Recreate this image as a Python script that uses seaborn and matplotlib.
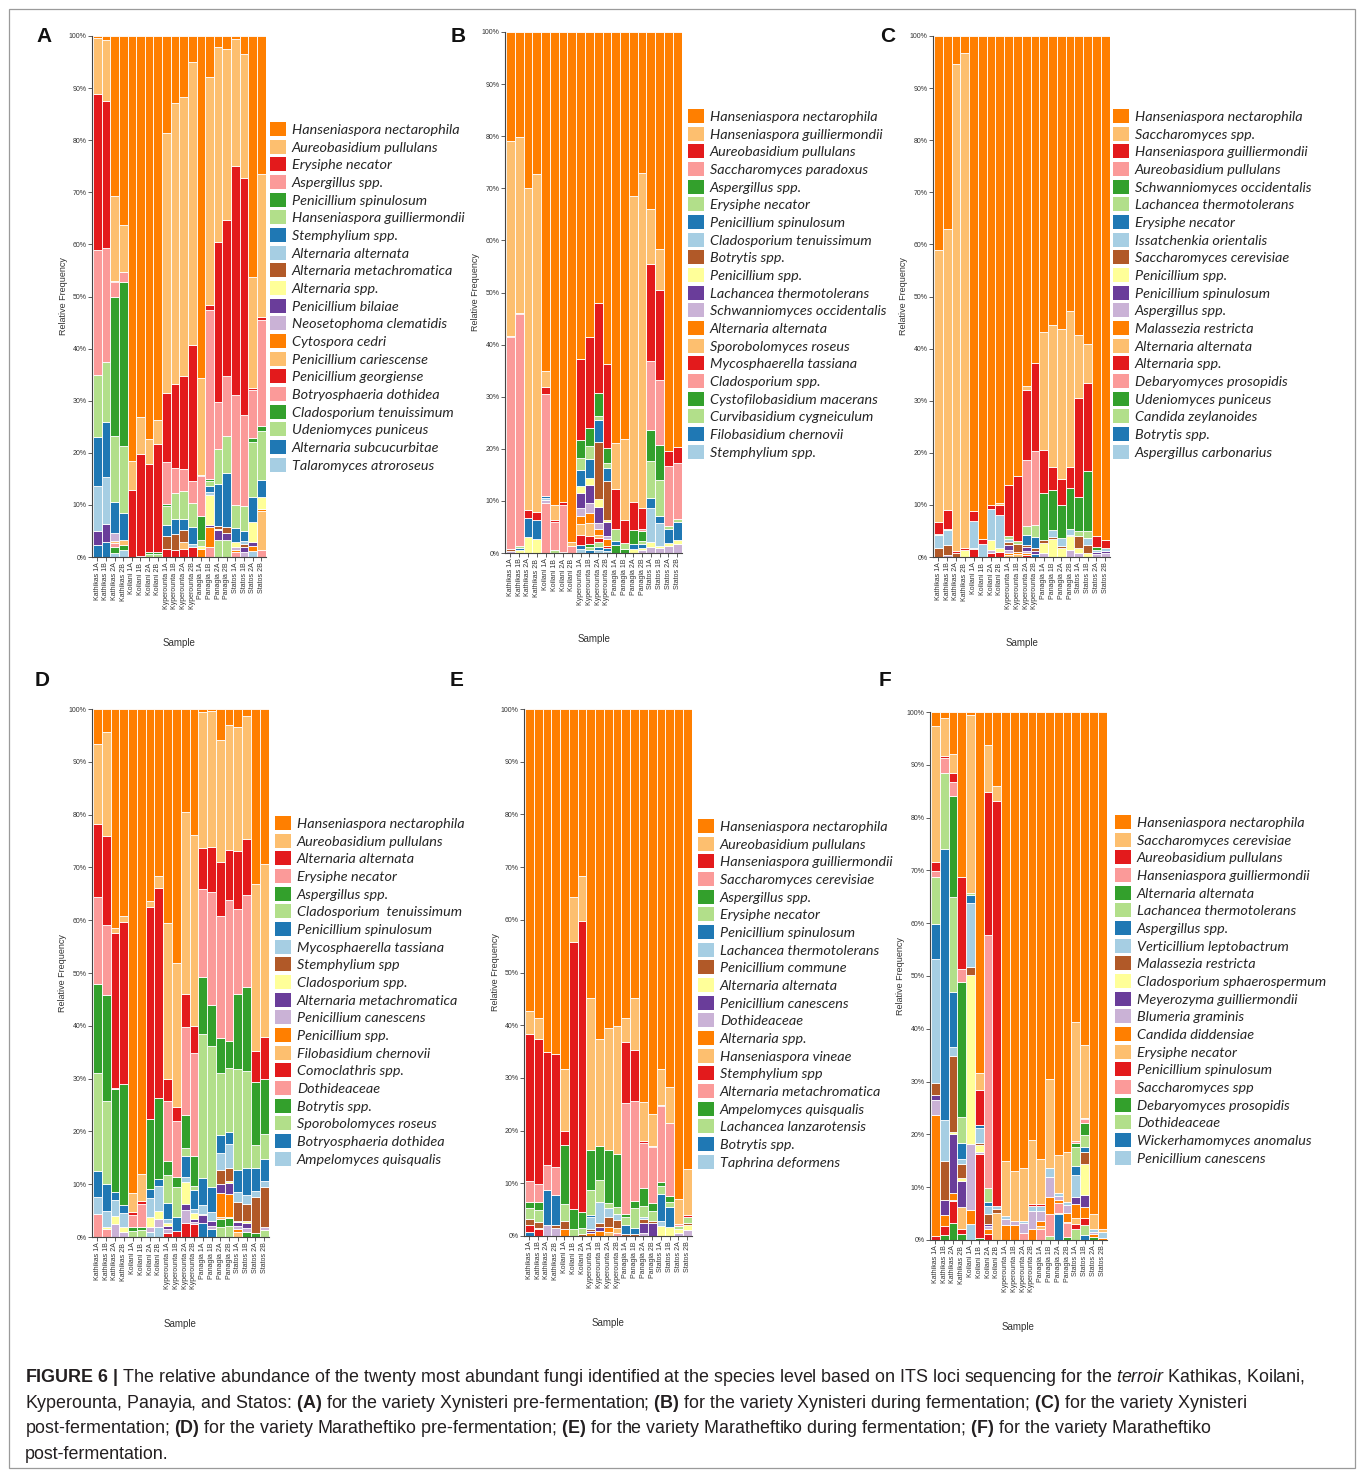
import numpy as np
import pandas as pd
import seaborn as sns
import matplotlib
matplotlib.use("Agg")
import matplotlib.pyplot as plt
from matplotlib.patches import Patch, Rectangle
from matplotlib import font_manager as fm

sns.set_theme(style="white")


def has_font(name):
    try:
        fm.findfont(fm.FontProperties(family=name), fallback_to_default=False)
        return True
    except Exception:
        return False


BASE = "Liberation Sans" if has_font("Liberation Sans") else "DejaVu Sans"
LEG = "Lato" if has_font("Lato") else BASE
CAP = "Liberation Sans Narrow" if has_font("Liberation Sans Narrow") else BASE
plt.rcParams['font.family'] = [BASE, 'DejaVu Sans']
plt.rcParams['mathtext.fontset'] = 'custom'
plt.rcParams['mathtext.rm'] = CAP
plt.rcParams['mathtext.bf'] = CAP + ':bold'
plt.rcParams['mathtext.it'] = CAP + ':italic'

W, H = 1360, 1473

PAIRED = ["#ff7f00", "#fdbf6f", "#e31a1c", "#fb9a99", "#33a02c", "#b2df8a",
          "#1f78b4", "#a6cee3", "#b15928", "#ffff99", "#6a3d9a", "#cab2d6",
          "#ff7f00", "#fdbf6f", "#e31a1c", "#fb9a99", "#33a02c", "#b2df8a",
          "#1f78b4", "#a6cee3"]

SAMPLES = ["Kathikas 1A", "Kathikas 1B", "Kathikas 2A", "Kathikas 2B",
           "Koilani 1A", "Koilani 1B", "Koilani 2A", "Koilani 2B",
           "Kyperounta 1A", "Kyperounta 1B", "Kyperounta 2A", "Kyperounta 2B",
           "Panagia 1A", "Panagia 1B", "Panagia 2A", "Panagia 2B",
           "Statos 1A", "Statos 1B", "Statos 2A", "Statos 2B"]
SAMPLES_E = ["Kathikas 1A", "Kathikas 1B", "Kathikas 2A", "Kathikas 2B",
             "Koilani 1A", "Koilani 1B", "Koilani 2A",
             "Kyperounta 1A", "Kyperounta 1B", "Kyperounta 2A", "Kyperounta 2B",
             "Panagia 1A", "Panagia 1B", "Panagia 2A", "Panagia 2B",
             "Statos 1A", "Statos 1B", "Statos 2A", "Statos 2B"]

# ---------------- Panel A ----------------
A_species = ["Hanseniaspora nectarophila", "Aureobasidium pullulans", "Erysiphe necator",
             "Aspergillus spp.", "Penicillium spinulosum", "Hanseniaspora guilliermondii",
             "Stemphylium spp.", "Alternaria alternata", "Alternaria metachromatica",
             "Alternaria spp.", "Penicillium bilaiae", "Neosetophoma clematidis",
             "Cytospora cedri", "Penicillium cariescense", "Penicillium georgiense",
             "Botryosphaeria dothidea", "Cladosporium tenuissimum", "Udeniomyces puniceus",
             "Alternaria subcucurbitae", "Talaromyces atroroseus"]
A_bars = [
    {1: 0.3, 2: 10.9, 3: 29.9, 4: 24.0, 6: 11.9, 7: 9.3, 8: 8.7, 11: 2.7, 19: 2.3},
    {1: 0.7, 2: 11.8, 3: 28.2, 4: 21.9, 6: 11.4, 7: 10.6, 8: 9.1, 11: 3.5, 19: 2.8},
    {1: 30.7, 2: 16.3, 3: 0.3, 4: 2.8, 5: 26.6, 6: 12.7, 7: 6.0, 12: 1.5, 14: 0.4, 16: 0.8, 17: 1.1, 20: 0.8},
    {1: 36.2, 2: 9.1, 4: 2.0, 5: 31.4, 6: 12.8, 7: 5.2, 14: 1.0, 17: 1.0, 20: 1.3},
    {1: 81.6, 2: 5.6, 3: 12.8},
    {1: 73.2, 2: 7.1, 3: 19.5, 6: 0.2},
    {1: 77.4, 2: 4.7, 3: 16.9, 5: 0.4, 6: 0.6},
    {1: 73.7, 2: 4.6, 3: 20.7, 5: 0.4, 6: 0.6},
    {1: 18.7, 2: 49.9, 3: 13.2, 4: 8.0, 5: 0.5, 6: 3.5, 7: 2.1, 9: 2.6, 15: 1.5},
    {1: 12.8, 2: 54.0, 3: 16.1, 4: 4.9, 6: 5.0, 7: 2.8, 9: 3.1, 15: 1.3},
    {1: 11.7, 2: 53.5, 3: 17.9, 4: 4.3, 6: 5.4, 7: 2.0, 9: 2.4, 14: 1.3, 15: 1.5},
    {1: 5.0, 2: 54.3, 3: 26.2, 4: 4.1, 6: 4.7, 7: 3.3, 8: 0.4, 15: 2.0},
    {1: 65.5, 2: 18.6, 3: 0.3, 4: 7.7, 5: 4.6, 6: 1.0, 10: 0.6, 13: 1.6},
    {1: 7.9, 2: 43.5, 3: 0.9, 4: 32.3, 5: 0.4, 6: 1.0, 7: 1.1, 8: 0.6, 10: 5.6, 11: 0.5, 13: 3.7, 16: 2.0},
    {1: 2.2, 2: 37.3, 3: 30.8, 4: 8.9, 6: 6.8, 7: 8.1, 9: 0.5, 10: 0.3, 11: 1.8, 18: 3.3},
    {1: 2.4, 2: 32.9, 3: 29.9, 4: 11.6, 6: 7.1, 7: 10.4, 9: 1.1, 11: 1.3, 18: 3.3},
    {1: 0.5, 2: 24.4, 3: 44.0, 4: 21.2, 6: 4.4, 7: 2.6, 10: 1.0, 12: 0.5, 13: 0.4, 16: 1.0},
    {1: 3.5, 2: 23.8, 3: 45.4, 4: 17.5, 6: 4.8, 7: 1.9, 8: 0.6, 9: 0.5, 11: 1.0, 12: 1.0},
    {1: 46.3, 2: 21.2, 3: 0.4, 4: 9.2, 5: 0.8, 6: 10.6, 7: 4.7, 10: 3.9, 11: 0.8, 13: 1.0, 20: 1.1},
    {1: 26.5, 2: 27.5, 3: 0.5, 4: 20.3, 5: 1.1, 6: 9.3, 7: 3.3, 10: 2.3, 13: 0.4, 14: 7.5, 16: 1.3},
]

# ---------------- Panel B ----------------
B_species = ["Hanseniaspora nectarophila", "Hanseniaspora guilliermondii", "Aureobasidium pullulans",
             "Saccharomyces paradoxus", "Aspergillus spp.", "Erysiphe necator",
             "Penicillium spinulosum", "Cladosporium tenuissimum", "Botrytis spp.",
             "Penicillium spp.", "Lachancea thermotolerans", "Schwanniomyces occidentalis",
             "Alternaria alternata", "Sporobolomyces roseus", "Mycosphaerella tassiana",
             "Cladosporium spp.", "Cystofilobasidium macerans", "Curvibasidium cygneiculum",
             "Filobasidium chernovii", "Stemphylium spp."]
B_bars = [
    {1: 20.9, 2: 37.4, 3: 0.3, 4: 40.6, 9: 0.5, 12: 0.3},
    {1: 20.1, 2: 33.8, 3: 0.3, 4: 44.4, 6: 0.4, 7: 0.5, 10: 0.5},
    {1: 30.0, 2: 61.7, 3: 1.5, 7: 3.7, 10: 3.1},
    {1: 27.2, 2: 65.0, 3: 1.5, 7: 3.6, 10: 2.7},
    {1: 65.0, 2: 3.2, 3: 1.3, 4: 19.6, 7: 0.4, 8: 0.4, 12: 0.5, 16: 9.6},
    {1: 90.8, 2: 2.9, 3: 0.3, 4: 5.5, 6: 0.5},
    {1: 90.3, 3: 0.4, 4: 9.1, 6: 0.2},
    {1: 97.9, 2: 0.7, 4: 1.4},
    {1: 62.8, 3: 15.6, 5: 3.4, 6: 2.3, 7: 3.0, 10: 1.3, 11: 2.9, 12: 1.6, 13: 1.6, 14: 2.1, 15: 1.8, 19: 0.8, 20: 0.8},
    {1: 58.6, 3: 17.4, 5: 3.4, 6: 2.5, 7: 3.7, 10: 1.4, 11: 3.4, 12: 2.0, 13: 1.9, 14: 2.5, 15: 1.4, 17: 0.6, 18: 0.6, 19: 0.6},
    {1: 52.0, 3: 17.3, 5: 4.4, 6: 0.8, 7: 4.1, 9: 11.1, 10: 1.4, 11: 3.2, 12: 1.0, 13: 1.3, 14: 0.5, 15: 0.8, 18: 1.0, 19: 0.6, 20: 0.5},
    {1: 63.8, 3: 16.1, 5: 2.9, 6: 0.8, 7: 2.6, 9: 7.4, 10: 0.5, 11: 2.7, 12: 0.5, 13: 1.4, 15: 0.4, 19: 0.5, 20: 0.4},
    {1: 78.8, 2: 9.0, 3: 7.5, 6: 2.4, 7: 0.7, 17: 1.6},
    {1: 78.2, 2: 15.5, 3: 4.4, 6: 1.2, 17: 0.7},
    {1: 31.5, 2: 58.8, 3: 5.2, 5: 2.7, 7: 1.1, 10: 0.7},
    {1: 27.0, 2: 64.3, 3: 4.1, 4: 0.3, 5: 2.0, 6: 0.5, 7: 0.8, 10: 0.4, 12: 0.6},
    {1: 33.9, 2: 10.6, 3: 18.7, 4: 13.1, 5: 6.0, 6: 7.2, 7: 1.8, 8: 6.6, 10: 1.0, 12: 1.1},
    {1: 41.7, 2: 7.8, 3: 17.2, 4: 12.5, 5: 6.7, 6: 7.0, 7: 1.3, 8: 4.4, 10: 0.5, 12: 0.9},
    {1: 80.4, 3: 2.9, 4: 11.6, 6: 0.5, 7: 2.7, 10: 0.5, 12: 1.4},
    {1: 79.6, 3: 3.1, 4: 10.8, 6: 0.5, 7: 3.6, 10: 0.6, 12: 1.8},
]

# ---------------- Panel C ----------------
C_species = ["Hanseniaspora nectarophila", "Saccharomyces spp.", "Hanseniaspora guilliermondii",
             "Aureobasidium pullulans", "Schwanniomyces occidentalis", "Lachancea thermotolerans",
             "Erysiphe necator", "Issatchenkia orientalis", "Saccharomyces cerevisiae",
             "Penicillium spp.", "Penicillium spinulosum", "Aspergillus spp.",
             "Malassezia restricta", "Alternaria alternata", "Alternaria spp.",
             "Debaryomyces prosopidis", "Udeniomyces puniceus", "Candida zeylanoides",
             "Botrytis spp.", "Aspergillus carbonarius"]
C_bars = [
    {1: 41.0, 2: 52.3, 3: 2.2, 6: 0.3, 8: 2.5, 9: 1.7},
    {1: 37.0, 2: 53.9, 3: 3.7, 6: 0.3, 8: 2.8, 9: 1.9, 12: 0.4},
    {1: 5.3, 2: 93.5, 3: 0.4, 9: 0.8},
    {1: 3.2, 2: 95.0, 3: 0.4, 10: 1.4},
    {1: 91.2, 3: 1.9, 8: 5.1, 9: 0.3, 15: 1.5},
    {1: 96.6, 3: 0.9, 8: 2.5},
    {1: 90.1, 3: 0.6, 8: 6.1, 10: 1.9, 12: 0.6, 15: 0.7},
    {1: 89.7, 2: 0.4, 3: 1.8, 8: 6.3, 10: 0.9, 15: 0.9},
    {1: 86.2, 3: 9.7, 6: 0.6, 8: 0.6, 9: 0.6, 11: 1.0, 12: 0.6, 13: 0.4, 14: 0.3},
    {1: 84.5, 3: 12.4, 6: 0.6, 9: 1.5, 13: 0.5, 14: 0.5},
    {1: 66.9, 2: 0.8, 3: 13.3, 4: 12.6, 6: 1.7, 7: 1.9, 9: 0.4, 11: 0.8, 12: 0.4, 13: 0.3, 15: 0.4},
    {1: 62.7, 3: 17.0, 4: 14.1, 6: 2.4, 7: 2.0, 9: 0.6, 11: 0.6, 19: 0.6},
    {1: 56.8, 2: 22.6, 3: 8.3, 5: 9.1, 9: 0.6, 10: 1.8, 12: 0.8},
    {1: 55.5, 2: 27.2, 3: 4.4, 5: 7.7, 8: 1.4, 9: 0.4, 10: 3.4},
    {1: 56.2, 2: 28.7, 3: 5.0, 5: 6.3, 8: 1.6, 9: 0.4, 10: 1.7},
    {1: 52.7, 2: 30.0, 3: 4.1, 5: 7.8, 8: 1.1, 9: 0.3, 10: 2.7, 12: 1.3},
    {1: 57.3, 2: 12.2, 3: 18.9, 5: 6.7, 6: 0.8, 9: 2.4, 10: 1.0, 12: 0.7},
    {1: 59.2, 2: 7.4, 3: 16.8, 5: 11.7, 6: 1.3, 8: 1.3, 9: 1.5, 10: 0.8},
    {1: 96.0, 3: 2.1, 5: 0.5, 8: 0.5, 11: 0.4, 12: 0.5},
    {1: 96.8, 3: 1.5, 8: 0.5, 11: 0.5, 12: 0.7},
]

# ---------------- Panel D ----------------
D_species = ["Hanseniaspora nectarophila", "Aureobasidium pullulans", "Alternaria alternata",
             "Erysiphe necator", "Aspergillus spp.", "Cladosporium  tenuissimum",
             "Penicillium spinulosum", "Mycosphaerella tassiana", "Stemphylium spp",
             "Cladosporium spp.", "Alternaria metachromatica", "Penicillium canescens",
             "Penicillium spp.", "Filobasidium chernovii", "Comoclathris spp.",
             "Dothideaceae", "Botrytis spp.", "Sporobolomyces roseus",
             "Botryosphaeria dothidea", "Ampelomyces quisqualis"]
D_bars = [
    {1: 6.6, 2: 15.2, 3: 13.8, 4: 16.4, 5: 17.0, 6: 18.5, 7: 5.0, 8: 3.1, 16: 4.4},
    {1: 4.4, 2: 19.6, 3: 16.9, 4: 13.3, 5: 20.0, 6: 15.8, 7: 5.0, 8: 3.1, 10: 0.4, 16: 1.5},
    {1: 41.4, 2: 1.0, 3: 29.3, 4: 0.3, 5: 19.4, 7: 1.6, 8: 3.1, 10: 1.5, 12: 2.4},
    {1: 39.2, 2: 1.1, 3: 30.8, 5: 22.9, 7: 1.5, 8: 2.6, 10: 1.0, 12: 0.9},
    {1: 91.7, 2: 3.5, 3: 0.6, 4: 2.4, 5: 0.6, 6: 1.2},
    {1: 88.0, 2: 5.2, 3: 0.5, 4: 4.5, 5: 0.5, 6: 1.3},
    {1: 36.4, 2: 1.1, 3: 40.1, 5: 13.4, 7: 1.7, 8: 3.6, 10: 1.8, 12: 1.0, 20: 0.9},
    {1: 31.6, 2: 2.3, 3: 39.8, 5: 15.4, 7: 1.3, 8: 4.6, 10: 1.6, 12: 1.6, 20: 1.8},
    {1: 40.5, 2: 29.5, 3: 4.2, 4: 11.4, 5: 2.6, 6: 5.4, 7: 3.0, 8: 0.8, 10: 0.5, 11: 0.6, 12: 0.7, 15: 0.8},
    {1: 48.2, 2: 27.2, 3: 2.6, 4: 10.7, 5: 1.9, 6: 5.7, 7: 2.6, 15: 1.1},
    {1: 19.6, 2: 34.3, 3: 6.3, 4: 16.6, 5: 6.4, 6: 1.4, 7: 4.1, 8: 0.9, 10: 4.2, 11: 1.0, 12: 2.5, 15: 2.7},
    {1: 23.8, 2: 36.3, 3: 5.0, 4: 19.5, 5: 5.7, 6: 0.8, 7: 3.6, 8: 0.8, 10: 1.1, 11: 0.5, 12: 0.5, 15: 2.4},
    {1: 0.6, 2: 25.8, 3: 7.6, 4: 16.8, 5: 10.7, 6: 27.3, 7: 5.2, 8: 1.6, 9: 0.3, 11: 1.4, 19: 2.7},
    {1: 0.3, 2: 25.9, 3: 8.5, 4: 21.3, 5: 7.8, 6: 26.8, 7: 4.6, 8: 1.7, 11: 1.0, 12: 0.6, 19: 1.5},
    {1: 5.8, 2: 23.1, 3: 10.3, 4: 23.2, 5: 6.5, 6: 11.7, 7: 3.4, 8: 3.4, 9: 2.5, 11: 1.7, 13: 4.7, 14: 0.3, 17: 1.5, 18: 1.9},
    {1: 3.1, 2: 23.5, 3: 9.3, 4: 26.7, 5: 5.1, 6: 12.0, 7: 2.3, 8: 4.5, 9: 2.5, 10: 0.3, 11: 2.1, 13: 4.3, 14: 0.3, 17: 1.4, 18: 2.1},
    {1: 3.4, 2: 23.4, 3: 11.0, 4: 16.1, 5: 14.3, 6: 19.1, 7: 4.1, 8: 2.0, 9: 3.5, 10: 0.3, 11: 0.8, 12: 0.5, 13: 0.5, 14: 1.0},
    {1: 1.4, 2: 23.3, 3: 10.6, 4: 17.3, 5: 16.0, 6: 18.4, 7: 5.1, 8: 1.7, 9: 3.1, 10: 0.4, 11: 1.0, 12: 0.7, 17: 1.0},
    {1: 33.1, 2: 31.7, 3: 5.8, 5: 11.9, 6: 4.5, 7: 4.2, 8: 1.2, 9: 6.8, 17: 0.8},
    {1: 29.4, 2: 32.7, 3: 7.9, 5: 10.4, 6: 4.9, 7: 4.0, 8: 1.3, 9: 7.6, 12: 0.5, 18: 1.3},
]

# ---------------- Panel E ----------------
E_species = ["Hanseniaspora nectarophila", "Aureobasidium pullulans", "Hanseniaspora guilliermondii",
             "Saccharomyces cerevisiae", "Aspergillus spp.", "Erysiphe necator",
             "Penicillium spinulosum", "Lachancea thermotolerans", "Penicillium commune",
             "Alternaria alternata", "Penicillium canescens", "Dothideaceae",
             "Alternaria spp.", "Hanseniaspora vineae", "Stemphylium spp",
             "Alternaria metachromatica", "Ampelomyces quisqualis", "Lachancea lanzarotensis",
             "Botrytis spp.", "Taphrina deformens"]
E_bars = [
    {1: 57.4, 2: 4.2, 3: 27.9, 4: 4.0, 5: 1.1, 6: 2.1, 9: 1.3, 15: 1.3, 19: 0.7},
    {1: 58.6, 2: 4.1, 3: 27.5, 4: 3.3, 5: 1.5, 6: 2.4, 9: 1.0, 13: 0.3, 15: 1.3},
    {1: 65.1, 3: 21.4, 4: 4.7, 7: 6.8, 12: 2.0},
    {1: 65.5, 3: 21.5, 4: 5.3, 7: 5.7, 9: 0.4, 12: 1.6},
    {1: 68.3, 2: 11.7, 3: 2.8, 5: 11.1, 6: 3.2, 9: 1.6, 13: 1.3},
    {1: 35.6, 2: 8.6, 3: 50.6, 5: 3.9, 6: 1.3},
    {1: 31.7, 2: 8.6, 3: 55.1, 5: 3.0, 6: 1.2, 9: 0.4},
    {1: 54.8, 2: 28.8, 5: 7.6, 6: 4.9, 7: 0.3, 8: 2.3, 9: 0.4, 11: 0.4, 13: 0.5},
    {1: 62.7, 2: 20.2, 5: 6.4, 6: 4.2, 8: 4.1, 9: 0.7, 11: 0.8, 13: 0.9},
    {1: 60.5, 2: 23.2, 5: 10.1, 6: 0.8, 8: 1.7, 9: 1.9, 13: 1.0, 14: 0.8},
    {1: 60.1, 2: 24.3, 5: 10.1, 6: 1.3, 8: 1.1, 9: 1.5, 14: 1.0, 16: 0.6},
    {1: 58.6, 2: 4.5, 3: 11.7, 4: 21.0, 5: 0.6, 6: 1.5, 7: 1.7, 9: 0.4},
    {1: 54.9, 2: 9.8, 3: 9.7, 4: 19.0, 5: 1.2, 6: 3.8, 7: 1.2, 9: 0.4},
    {1: 74.4, 2: 7.5, 3: 0.3, 4: 8.5, 5: 3.4, 6: 2.1, 8: 0.3, 9: 0.8, 11: 2.0, 12: 0.5},
    {1: 76.8, 2: 6.1, 3: 0.3, 4: 10.5, 5: 1.6, 6: 1.8, 9: 0.5, 11: 2.4},
    {1: 68.3, 2: 6.8, 3: 0.3, 4: 14.4, 5: 0.8, 6: 1.5, 7: 5.0, 8: 1.0, 10: 1.9},
    {1: 71.8, 2: 6.7, 4: 14.0, 5: 1.0, 6: 1.0, 7: 3.7, 10: 1.8},
    {1: 93.0, 2: 4.7, 4: 0.4, 6: 0.5, 10: 0.8, 12: 0.6},
    {1: 87.2, 2: 8.9, 3: 0.3, 6: 1.1, 9: 0.4, 10: 0.9, 12: 1.2},
]

# ---------------- Panel F ----------------
F_species = ["Hanseniaspora nectarophila", "Saccharomyces cerevisiae", "Aureobasidium pullulans",
             "Hanseniaspora guilliermondii", "Alternaria alternata", "Lachancea thermotolerans",
             "Aspergillus spp.", "Verticillium leptobactrum", "Malassezia restricta",
             "Cladosporium sphaerospermum", "Meyerozyma guilliermondii", "Blumeria graminis",
             "Candida diddensiae", "Erysiphe necator", "Penicillium spinulosum",
             "Saccharomyces spp", "Debaryomyces prosopidis", "Dothideaceae",
             "Wickerhamomyces anomalus", "Penicillium canescens"]
F_bars = [
    {1: 2.6, 2: 25.8, 3: 1.7, 4: 1.1, 6: 8.9, 7: 6.7, 8: 23.5, 9: 2.2, 11: 1.0, 12: 2.8, 13: 23.0, 15: 0.7},
    {1: 1.1, 2: 7.2, 3: 0.4, 4: 2.9, 6: 14.4, 7: 51.2, 8: 7.8, 9: 7.5, 11: 2.8, 13: 2.1, 15: 1.6, 17: 1.0},
    {1: 7.9, 2: 3.6, 3: 1.8, 4: 2.6, 5: 19.2, 6: 17.9, 7: 10.4, 8: 1.7, 9: 14.5, 10: 0.3, 11: 11.2, 13: 1.3, 14: 0.3, 15: 4.0, 17: 3.3},
    {1: 31.2, 3: 17.4, 4: 2.5, 5: 25.6, 6: 5.0, 7: 3.0, 8: 1.0, 9: 2.6, 10: 0.5, 11: 5.0, 14: 4.2, 15: 0.8, 17: 1.2},
    {1: 0.6, 2: 33.7, 6: 0.4, 7: 1.4, 8: 12.2, 9: 1.5, 10: 32.0, 12: 12.5, 13: 2.6, 20: 3.1},
    {1: 68.3, 2: 3.3, 3: 6.7, 7: 0.4, 8: 2.9, 9: 0.4, 10: 1.4, 12: 0.4, 15: 15.9, 17: 0.3},
    {1: 6.3, 2: 8.8, 3: 27.2, 4: 47.8, 6: 2.7, 7: 0.7, 8: 1.6, 9: 1.8, 11: 0.5, 12: 0.5, 13: 1.0, 15: 1.1},
    {1: 14.1, 2: 2.8, 3: 76.6, 8: 0.7, 9: 0.6, 14: 5.2},
    {1: 85.0, 2: 10.4, 8: 0.7, 12: 1.0, 13: 2.9},
    {1: 87.0, 2: 9.4, 12: 0.7, 13: 2.9},
    {1: 86.3, 2: 10.1, 8: 0.3, 12: 2.0, 16: 1.3},
    {1: 81.1, 2: 12.1, 3: 0.3, 8: 1.0, 12: 3.5, 13: 2.0},
    {1: 84.6, 2: 8.6, 3: 0.3, 8: 1.0, 12: 1.9, 13: 1.0, 14: 0.5, 16: 2.1},
    {1: 69.6, 2: 16.7, 8: 1.8, 12: 3.8, 13: 3.2, 16: 4.2, 18: 0.7},
    {1: 84.1, 2: 7.1, 8: 0.7, 12: 0.7, 13: 0.6, 16: 1.9, 17: 0.2, 19: 4.9},
    {1: 83.3, 2: 9.5, 8: 0.5, 12: 1.6, 13: 1.6, 15: 0.3, 16: 2.6, 17: 0.6},
    {1: 58.7, 2: 22.6, 4: 0.4, 5: 0.6, 6: 3.7, 7: 1.6, 8: 4.3, 11: 1.3, 13: 2.6, 14: 1.2, 15: 0.9, 18: 2.1},
    {1: 63.1, 2: 13.7, 3: 0.3, 4: 0.8, 5: 2.3, 6: 2.2, 7: 0.9, 9: 2.4, 10: 5.8, 11: 2.3, 13: 2.0, 15: 1.3, 18: 1.9, 19: 1.0},
    {1: 95.0, 2: 2.9, 8: 0.5, 12: 0.5, 13: 0.5, 17: 0.6},
    {1: 97.9, 2: 0.5, 8: 1.3, 13: 0.3},
]

# layout (pixel boxes): axes left, top, right, bottom ; letter ; legend
PANELS = [
    ("A", A_species, A_bars, SAMPLES, (92, 36, 266, 557), (44, 37), (270, 122)),
    ("B", B_species, B_bars, SAMPLES, (505, 32, 682, 553), (458, 37), (688, 109)),
    ("C", C_species, C_bars, SAMPLES, (933, 36, 1110, 557), (888, 37), (1113, 109)),
    ("D", D_species, D_bars, SAMPLES, (92, 709, 269, 1237), (42, 681), (275, 816)),
    ("E", E_species, E_bars, SAMPLES_E, (524, 709, 692, 1236), (457, 681), (698, 819)),
    ("F", F_species, F_bars, SAMPLES, (930, 712, 1107, 1240), (885, 681), (1115, 815)),
]

fig = plt.figure(figsize=(W / 100, H / 100), dpi=100)
fig.patch.set_facecolor("white")

leg_prop = fm.FontProperties(family=[LEG, "DejaVu Sans"], style="italic", size=10.4)
AXCOL = "#444444"

for letter, species, bars, samples, box, lpos, gpos in PANELS:
    l, t, r, b = box
    ax = fig.add_axes([l / W, 1 - b / H, (r - l) / W, (b - t) / H])
    rows = []
    for i, (s, bar) in enumerate(zip(samples, bars)):
        for k, name in enumerate(species, start=1):
            rows.append((i, s, name, bar.get(k, 0.0)))
    df = pd.DataFrame(rows, columns=["pos", "sample", "species", "value"])
    df["value"] = df["value"] / df.groupby("pos")["value"].transform("sum") * 100
    pal = dict(zip(species, PAIRED))
    sns.histplot(data=df, x="pos", weights="value", hue="species", hue_order=species,
                 palette=pal, multiple="stack", discrete=True, shrink=1.0,
                 stat="count", edgecolor="white", linewidth=0.6, alpha=1,
                 legend=False, ax=ax)
    n = len(samples)
    ax.set_xlim(-0.62, n - 0.45)
    ax.set_ylim(0, 100)
    ax.set_xticks(range(n))
    ax.set_xticklabels(samples, rotation=90, fontsize=5, color="#333333")
    ax.set_yticks(range(0, 101, 10))
    ax.set_yticklabels([f"{v}%" for v in range(0, 101, 10)], fontsize=5, color="#333333")
    ax.tick_params(axis="both", direction="out", length=3, width=0.6, color=AXCOL, pad=1)
    ax.tick_params(axis="both", which="both", bottom=True, left=True)
    for sp in ["top", "right"]:
        ax.spines[sp].set_visible(False)
    for sp in ["left", "bottom"]:
        ax.spines[sp].set_color(AXCOL)
        ax.spines[sp].set_linewidth(0.8)
    ax.set_facecolor("white")
    ax.grid(False)
    ax.set_ylabel("Relative Frequency", fontsize=6.5, color="#333333")
    ax.set_xlabel("Sample", fontsize=7, color="#333333")
    ax.yaxis.set_label_coords(-0.14, 0.5)
    ax.xaxis.set_label_coords(0.5, -0.155)

    fig.text(lpos[0] / W, 1 - lpos[1] / H, letter, fontsize=15, fontweight="bold",
             ha="center", va="center", color="#111111")

    handles = [Patch(facecolor=c, edgecolor="none") for c in PAIRED[:len(species)]]
    fig.legend(handles, species, loc="upper left",
               bbox_to_anchor=(gpos[0] / W, 1 - gpos[1] / H),
               frameon=False, prop=leg_prop, handlelength=1.12, handleheight=1.12,
               labelspacing=0.25, handletextpad=0.4, borderpad=0, borderaxespad=0)

# caption
cap_lines = [
    r"$\mathbf{FIGURE\ 6\ |}$ The relative abundance of the twenty most abundant fungi identified at the species level based on ITS loci sequencing for the $\mathit{terroir}$ Kathikas, Koilani,",
    r"Kyperounta, Panayia, and Statos: $\mathbf{(A)}$ for the variety Xynisteri pre-fermentation; $\mathbf{(B)}$ for the variety Xynisteri during fermentation; $\mathbf{(C)}$ for the variety Xynisteri",
    r"post-fermentation; $\mathbf{(D)}$ for the variety Maratheftiko pre-fermentation; $\mathbf{(E)}$ for the variety Maratheftiko during fermentation; $\mathbf{(F)}$ for the variety Maratheftiko",
    r"post-fermentation.",
]
cap_size = 13.2 if CAP != BASE else 12.9
for i, line in enumerate(cap_lines):
    fig.text(25 / W, 1 - (1378 + 25.4 * i) / H, line, fontsize=cap_size,
             family=[CAP, "DejaVu Sans"], color="#231f20", ha="left", va="center")

# frame
fig.add_artist(Rectangle((9 / W, 1 - 1468 / H), (1355 - 9) / W, (1468 - 9) / H,
                         transform=fig.transFigure, fill=False, edgecolor="#9a9a9a",
                         linewidth=0.9))

fig.savefig("out.png", dpi=100, facecolor="white")
